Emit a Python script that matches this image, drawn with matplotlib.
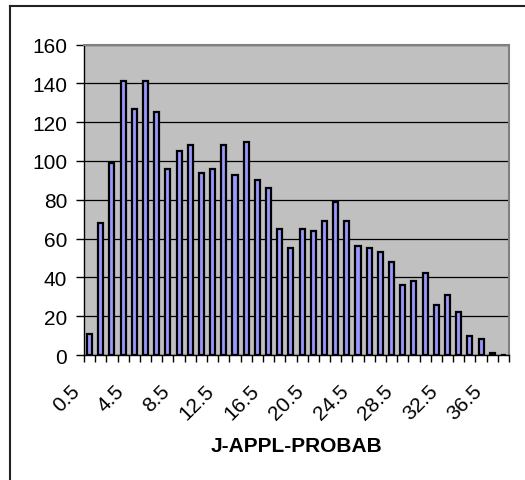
import matplotlib.pyplot as plt
from matplotlib.lines import Line2D
from matplotlib.transforms import ScaledTranslation

plt.rcParams['font.family'] = ['Liberation Sans', 'DejaVu Sans']

# categories 0.5 .. 37.5
categories = [i + 0.5 for i in range(38)]
counts = [11, 68, 99, 141, 127, 141, 125, 96, 105, 108,
          94, 96, 108, 93, 110, 90, 86, 65, 55, 65,
          64, 69, 79, 69, 56, 55, 53, 48, 36, 38,
          42, 26, 31, 22, 10, 8, 1, 0]
y_ticks = [0, 20, 40, 60, 80, 100, 120, 140, 160]
x_title = 'J-APPL-PROBAB'

fig = plt.figure(figsize=(5.25, 4.81), dpi=100)
ax = fig.add_axes([84 / 525, 1 - 356 / 481, 425 / 525, 310.5 / 481])

# chart area border (only left and top visible)
fig.add_artist(Line2D([10 / 525, 10 / 525], [0, 1 - 7 / 481], transform=fig.transFigure,
                      color='#222222', lw=1.5))
fig.add_artist(Line2D([10 / 525, 1], [1 - 7 / 481, 1 - 7 / 481], transform=fig.transFigure,
                      color='#222222', lw=1.5))

ax.set_facecolor('#C0C0C0')
pos = list(range(len(categories)))
ax.bar(pos, counts, width=0.45, color='#9999FF', edgecolor='black', linewidth=1.6, zorder=3)

ax.set_ylim(0, 160)
ax.set_xlim(-0.5, len(categories) - 0.5)
ax.set_yticks(y_ticks)
ax.yaxis.grid(True, color='black', linewidth=0.9, zorder=0)
ax.set_axisbelow(True)

# labels every 4th category, tick marks on category boundaries
ax.set_xticks(pos[::4])
ax.set_xticklabels([f'{c:g}' for c in categories[::4]], rotation=45, ha='right', va='top')
ax.set_xticks([p - 0.5 for p in pos] + [len(pos) - 0.5], minor=True)
ax.tick_params(axis='x', which='major', length=0, pad=18.7, labelsize=15)
ax.tick_params(axis='x', which='minor', length=5, width=1, direction='out')
ax.tick_params(axis='y', length=6, width=1, direction='out', pad=6, labelsize=15)
shift = ScaledTranslation(-6 / 100, 0, fig.dpi_scale_trans)
for lab in ax.get_xticklabels():
    lab.set_transform(lab.get_transform() + shift)

for s in ['top', 'right']:
    ax.spines[s].set_color('#808080')
    ax.spines[s].set_linewidth(1.5)
for s in ['left', 'bottom']:
    ax.spines[s].set_color('black')
    ax.spines[s].set_linewidth(1)

ax.set_xlabel(x_title, fontsize=15, fontweight='bold', labelpad=9.5)

fig.savefig('out.png', dpi=100)
